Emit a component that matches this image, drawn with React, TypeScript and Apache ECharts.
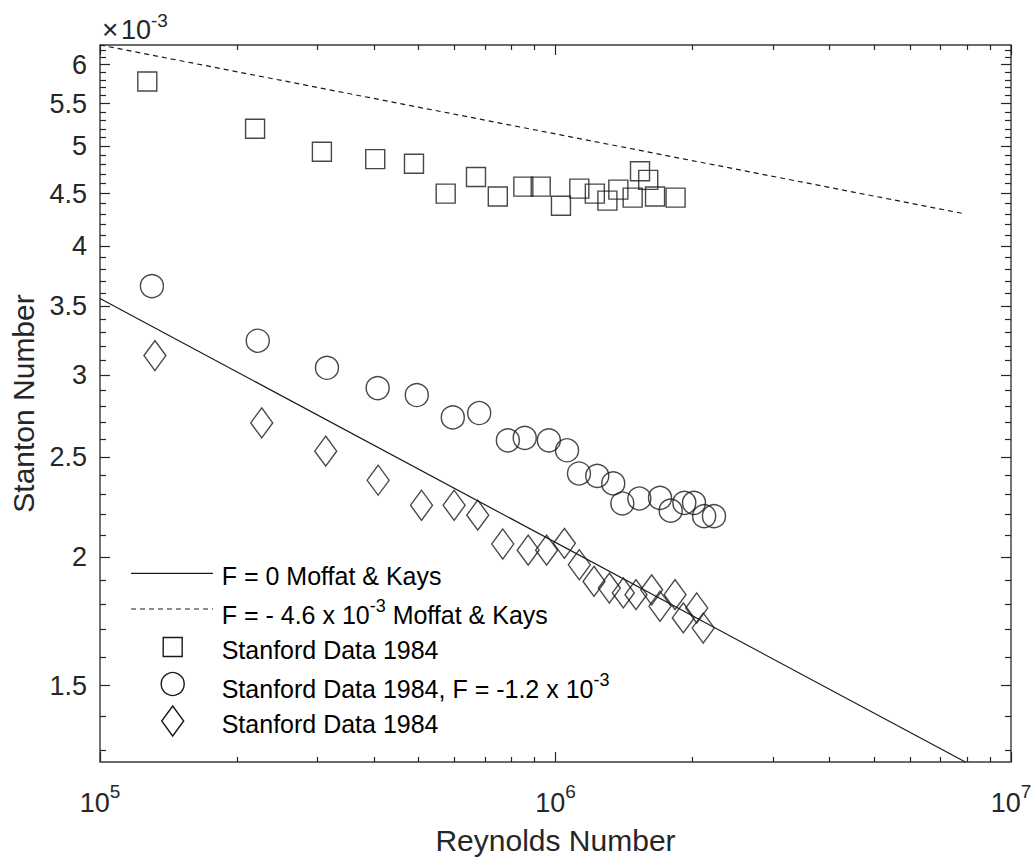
import React, { useEffect, useRef } from "react";
import * as echarts from "echarts";

// Axis ranges (x fixed to two decades, y tight to the correlation lines)
const reynoldsRange = [1e5, 1e7];
const stantonRange = [1.265e-3, 6.27e-3];

// Tick positions
const xMajorTicks = [1e5, 1e6, 1e7];
const xMinorTicks = [2e5, 3e5, 4e5, 5e5, 6e5, 7e5, 8e5, 9e5, 2e6, 3e6, 4e6, 5e6, 6e6, 7e6, 8e6, 9e6];
const yMajorTicks = [1.5e-3, 2e-3, 2.5e-3, 3e-3, 3.5e-3, 4e-3, 4.5e-3, 5e-3, 5.5e-3, 6e-3];
const yMinorTicks = [
  1.3e-3, 1.4e-3, 1.6e-3, 1.7e-3, 1.8e-3, 1.9e-3, 2.1e-3, 2.2e-3, 2.3e-3, 2.4e-3,
  2.6e-3, 2.7e-3, 2.8e-3, 2.9e-3, 3.1e-3, 3.2e-3, 3.3e-3, 3.4e-3, 3.6e-3, 3.7e-3,
  3.8e-3, 3.9e-3, 4.1e-3, 4.2e-3, 4.3e-3, 4.4e-3, 4.6e-3, 4.7e-3, 4.8e-3, 4.9e-3,
  5.1e-3, 5.2e-3, 5.3e-3, 5.4e-3, 5.6e-3, 5.7e-3, 5.8e-3, 5.9e-3, 6.1e-3, 6.2e-3,
];

// Moffat & Kays correlations: straight lines on log-log axes, given by end points
const moffatKaysF0Re = [1e5, 7.94e6];
const moffatKaysF0St = [3.56e-3, 1.265e-3];
const moffatKaysBlowRe = [1e5, 7.94e6];
const moffatKaysBlowSt = [6.27e-3, 4.3e-3];

// Stanford Data 1984 (squares)
const squareRe = [
  1.27e5, 2.19e5, 3.07e5, 4.02e5, 4.89e5, 5.74e5, 6.69e5, 7.47e5, 8.5e5, 9.28e5,
  1.028e6, 1.128e6, 1.22e6, 1.3e6, 1.374e6, 1.477e6, 1.533e6, 1.598e6, 1.654e6, 1.835e6,
];
const squareSt = [
  5.78e-3, 5.2e-3, 4.94e-3, 4.86e-3, 4.81e-3, 4.5e-3, 4.67e-3, 4.47e-3, 4.57e-3, 4.57e-3,
  4.38e-3, 4.55e-3, 4.5e-3, 4.43e-3, 4.54e-3, 4.46e-3, 4.73e-3, 4.64e-3, 4.47e-3, 4.46e-3,
];

// Stanford Data 1984, F = -1.2 x 10^-3 (circles)
const circleRe = [
  1.3e5, 2.22e5, 3.15e5, 4.07e5, 4.96e5, 5.95e5, 6.8e5, 7.86e5, 8.56e5, 9.67e5, 1.06e6,
  1.126e6, 1.235e6, 1.339e6, 1.402e6, 1.528e6, 1.696e6, 1.79e6, 1.918e6, 2.014e6, 2.12e6, 2.228e6,
];
const circleSt = [
  3.66e-3, 3.24e-3, 3.05e-3, 2.915e-3, 2.87e-3, 2.73e-3, 2.757e-3, 2.594e-3, 2.608e-3, 2.594e-3, 2.537e-3,
  2.409e-3, 2.396e-3, 2.356e-3, 2.253e-3, 2.278e-3, 2.281e-3, 2.217e-3, 2.256e-3, 2.256e-3, 2.19e-3, 2.19e-3,
];

// Stanford Data 1984 (diamonds)
const diamondRe = [
  1.32e5, 2.265e5, 3.13e5, 4.08e5, 5.08e5, 5.99e5, 6.75e5, 7.66e5, 8.71e5, 9.56e5, 1.046e6,
  1.128e6, 1.215e6, 1.313e6, 1.409e6, 1.502e6, 1.626e6, 1.696e6, 1.83e6, 1.908e6, 2.042e6, 2.11e6,
];
const diamondSt = [
  3.134e-3, 2.697e-3, 2.532e-3, 2.373e-3, 2.244e-3, 2.244e-3, 2.195e-3, 2.058e-3, 2.03e-3, 2.03e-3, 2.061e-3,
  1.965e-3, 1.893e-3, 1.865e-3, 1.845e-3, 1.838e-3, 1.858e-3, 1.791e-3, 1.838e-3, 1.745e-3, 1.784e-3, 1.706e-3,
];

const legendLabels = [
  "F = 0 Moffat & Kays",
  "F = - 4.6 x 10^-3 Moffat & Kays",
  "Stanford Data 1984",
  "Stanford Data 1984, F = -1.2 x 10^-3",
  "Stanford Data 1984",
];

const FONT = "'Liberation Sans', Arial, Helvetica, sans-serif";
const INK = "#262626";
const MARK = "#1a1a1a";

const zip = (xs: number[], ys: number[]) => xs.map((x, i) => [x, ys[i]]);

// Turns "a^b c" into rich text with a raised exponent
const richSup = (s: string) =>
  s.replace(/\^(-?\d+)/g, (_m, e) => `{sup|${e}}`).split(/(\{sup\|[^}]*\})/)
    .map((part) => (part.startsWith("{sup|") ? part : part ? `{t|${part}}` : ""))
    .join("");

function buildOption() {
  const L = 100;
  const T = 45;
  const R = 1011;
  const B = 763;

  const baseAxis = {
    gridIndex: 0,
    type: "log" as const,
    logBase: 10,
    axisLine: { show: false, onZero: false },
    splitLine: { show: false },
    minorTick: { show: false },
    offset: 0,
  };
  const xBase = { ...baseAxis, min: reynoldsRange[0], max: reynoldsRange[1] };
  const yBase = { ...baseAxis, min: stantonRange[0], max: stantonRange[1] };
  const tickStyle = { color: INK, width: 1.2 };

  const xAxes = [
    {
      ...xBase,
      position: "bottom",
      axisTick: { show: true, inside: true, length: 10, lineStyle: tickStyle, customValues: xMajorTicks },
      axisLabel: {
        show: true,
        customValues: xMajorTicks,
        margin: 20,
        formatter: (v: number) => `{b|10}{s|${Math.round(Math.log10(v))}}`,
        rich: {
          b: { fontFamily: FONT, fontSize: 27, color: INK, verticalAlign: "bottom", lineHeight: 34 },
          s: { fontFamily: FONT, fontSize: 19, color: INK, verticalAlign: "top", lineHeight: 19 },
        },
      },
      name: "Reynolds Number",
      nameLocation: "middle",
      nameGap: 63,
      nameTextStyle: { fontFamily: FONT, fontSize: 30, color: INK },
    },
    {
      ...xBase,
      position: "bottom",
      axisTick: { show: true, inside: true, length: 5, lineStyle: tickStyle, customValues: xMinorTicks },
      axisLabel: { show: false },
    },
    {
      ...xBase,
      position: "top",
      axisTick: { show: true, inside: true, length: 10, lineStyle: tickStyle, customValues: xMajorTicks },
      axisLabel: { show: false },
    },
    {
      ...xBase,
      position: "top",
      axisTick: { show: true, inside: true, length: 5, lineStyle: tickStyle, customValues: xMinorTicks },
      axisLabel: { show: false },
    },
  ];

  const yAxes = [
    {
      ...yBase,
      position: "left",
      axisTick: { show: true, inside: true, length: 10, lineStyle: tickStyle, customValues: yMajorTicks },
      axisLabel: {
        show: true,
        customValues: yMajorTicks,
        margin: 13,
        fontFamily: FONT,
        fontSize: 27,
        color: INK,
        formatter: (v: number) => String(Number((v * 1000).toFixed(2))),
      },
      name: "Stanton Number",
      nameLocation: "middle",
      nameRotate: 90,
      nameGap: 62,
      nameTextStyle: { fontFamily: FONT, fontSize: 30, color: INK },
    },
    {
      ...yBase,
      position: "left",
      axisTick: { show: true, inside: true, length: 6, lineStyle: tickStyle, customValues: yMinorTicks },
      axisLabel: { show: false },
    },
    {
      ...yBase,
      position: "right",
      axisTick: { show: true, inside: true, length: 10, lineStyle: tickStyle, customValues: yMajorTicks },
      axisLabel: { show: false },
    },
    {
      ...yBase,
      position: "right",
      axisTick: { show: true, inside: true, length: 6, lineStyle: tickStyle, customValues: yMinorTicks },
      axisLabel: { show: false },
    },
  ];

  const markerStyle = { color: "rgba(0,0,0,0)", borderColor: MARK, borderWidth: 1.4 };

  // Legend, drawn in the lower-left corner of the plot box
  const lx = 131;
  const lx2 = 213;
  const mx = 172.7;
  const tx = 221.7;
  const rows = [573.3, 612, 647, 686, 721];
  const legendRich = {
    t: { fontFamily: FONT, fontSize: 25, color: INK, verticalAlign: "bottom", lineHeight: 30 },
    sup: { fontFamily: FONT, fontSize: 18, color: INK, verticalAlign: "top", lineHeight: 18 },
  };

  const plainText = (text: string, x: number, y: number, fontSize: number) => ({
    type: "text",
    x,
    y,
    style: {
      text,
      font: `${fontSize}px ${FONT}`,
      fill: INK,
      verticalAlign: "middle",
      align: "left",
    },
  });

  const legendGraphics: any[] = [
    { type: "line", shape: { x1: lx, y1: rows[0], x2: lx2, y2: rows[0] }, style: { stroke: MARK, lineWidth: 1.2 } },
    {
      type: "line",
      shape: { x1: lx, y1: rows[1] - 3, x2: lx2, y2: rows[1] - 3 },
      style: { stroke: MARK, lineWidth: 1.2, lineDash: [5, 4] },
    },
    {
      type: "rect",
      shape: { x: mx - 9.5, y: rows[2] - 9.5, width: 19, height: 19 },
      style: { fill: "none", stroke: MARK, lineWidth: 1.4 },
    },
    { type: "circle", shape: { cx: mx, cy: rows[3] - 2, r: 11.5 }, style: { fill: "none", stroke: MARK, lineWidth: 1.4 } },
    {
      type: "polygon",
      shape: { points: [[mx, rows[4] - 15], [mx + 11, rows[4]], [mx, rows[4] + 15], [mx - 11, rows[4]]] },
      style: { fill: "none", stroke: MARK, lineWidth: 1.4 },
    },
    ...legendLabels.map((label, i) => ({
      type: "text",
      x: tx,
      y: rows[i],
      style: {
        text: richSup(label),
        rich: legendRich,
        verticalAlign: "middle",
        align: "left",
      },
    })),
    // Exponent multiplier above the y axis
    plainText("×", 102, 29, 28),
    plainText("10", 121, 30, 27),
    plainText("-3", 151, 20, 19),
  ];

  return {
    animation: false,
    backgroundColor: "#ffffff",
    grid: {
      left: L,
      top: T,
      width: R - L,
      height: B - T,
      show: true,
      borderColor: "#3a3a3a",
      borderWidth: 1.4,
      backgroundColor: "#ffffff",
      containLabel: false,
    },
    xAxis: xAxes,
    yAxis: yAxes,
    graphic: legendGraphics,
    series: [
      {
        name: legendLabels[0],
        type: "line",
        data: zip(moffatKaysF0Re, moffatKaysF0St),
        showSymbol: false,
        symbol: "none",
        lineStyle: { color: MARK, width: 1.2 },
        clip: true,
        z: 3,
      },
      {
        name: legendLabels[1],
        type: "line",
        data: zip(moffatKaysBlowRe, moffatKaysBlowSt),
        showSymbol: false,
        symbol: "none",
        lineStyle: { color: MARK, width: 1.2, type: [5, 4] },
        clip: true,
        z: 3,
      },
      {
        name: legendLabels[2],
        type: "scatter",
        data: zip(squareRe, squareSt),
        symbol: "rect",
        symbolSize: 19,
        itemStyle: markerStyle,
        z: 4,
      },
      {
        name: legendLabels[3],
        type: "scatter",
        data: zip(circleRe, circleSt),
        symbol: "circle",
        symbolSize: 23,
        itemStyle: markerStyle,
        z: 4,
      },
      {
        name: "Stanford Data 1984 (diamonds)",
        type: "scatter",
        data: zip(diamondRe, diamondSt),
        symbol: "diamond",
        symbolSize: [22, 30],
        itemStyle: markerStyle,
        z: 4,
      },
    ],
  };
}

export default function App() {
  const ref = useRef<HTMLDivElement | null>(null);

  useEffect(() => {
    if (!ref.current) return;
    const chart = echarts.init(ref.current, undefined, { renderer: "svg" });
    chart.setOption(buildOption() as any);
    return () => {
      chart.dispose();
    };
  }, []);

  return (
    <div
      ref={ref}
      style={{ position: "fixed", left: 0, top: 0, width: 1036, height: 860, background: "#ffffff" }}
    />
  );
}
